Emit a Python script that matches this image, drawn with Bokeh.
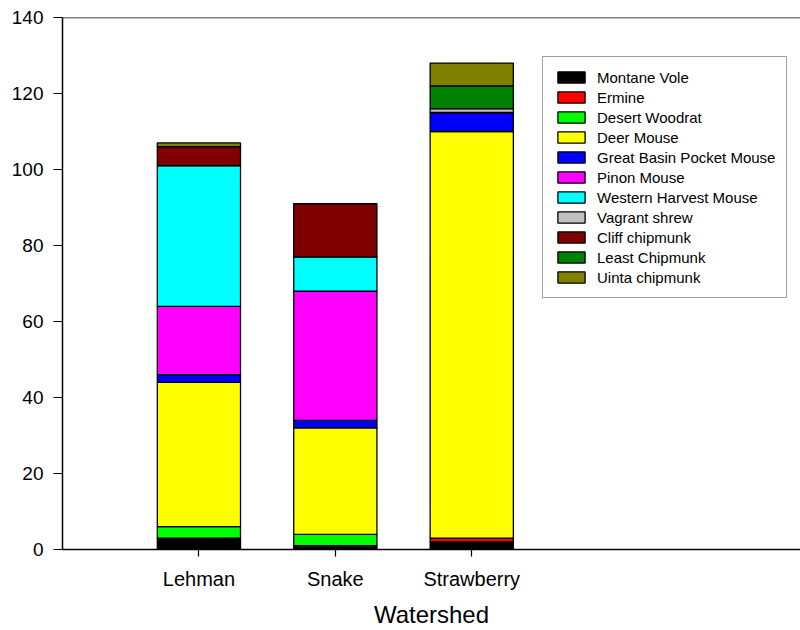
from bokeh.plotting import figure
from bokeh.models import ColumnDataSource, Range1d, FixedTicker, Span, Legend
from bokeh.embed import file_html
from bokeh.resources import INLINE

watersheds = ["Lehman", "Snake", "Strawberry"]
species = ["Montane Vole", "Ermine", "Desert Woodrat", "Deer Mouse",
           "Great Basin Pocket Mouse", "Pinon Mouse", "Western Harvest Mouse",
           "Vagrant shrew", "Cliff chipmunk", "Least Chipmunk", "Uinta chipmunk"]
colors = ["#000000", "#FF0000", "#00FF00", "#FFFF00", "#0000FF", "#FF00FF",
          "#00FFFF", "#C0C0C0", "#800000", "#008000", "#808000"]

montane_vole = [3, 1, 2]
ermine = [0, 0, 1]
desert_woodrat = [3, 3, 0]
deer_mouse = [38, 28, 107]
great_basin_pocket_mouse = [2, 2, 5]
pinon_mouse = [18, 34, 0]
western_harvest_mouse = [37, 9, 0]
vagrant_shrew = [0, 0, 1]
cliff_chipmunk = [5, 14, 0]
least_chipmunk = [0, 0, 6]
uinta_chipmunk = [1, 0, 6]

y_ticks = [0, 20, 40, 60, 80, 100, 120, 140]

values = [montane_vole, ermine, desert_woodrat, deer_mouse, great_basin_pocket_mouse,
          pinon_mouse, western_harvest_mouse, vagrant_shrew, cliff_chipmunk,
          least_chipmunk, uinta_chipmunk]

xs = [i + 1 for i in range(len(watersheds))]
data = {"x": xs}
for name, v in zip(species, values):
    data[name] = v
source = ColumnDataSource(data)

FONT = "Liberation Sans"

p = figure(width=800, height=630, output_backend="svg", toolbar_location=None,
           x_range=Range1d(0, 5.41), y_range=Range1d(0, 140),
           min_border_left=62, min_border_top=17, min_border_right=0,
           min_border_bottom=81)
p.outline_line_color = None
p.xgrid.visible = False
p.ygrid.visible = False

renderers = p.vbar_stack(species, x="x", width=0.61, source=source,
                         fill_color=colors, line_color="black", line_width=1.3)

# axes
p.yaxis.ticker = FixedTicker(ticks=y_ticks)
p.xaxis.ticker = FixedTicker(ticks=xs)
p.xaxis.major_label_overrides = {x: w for x, w in zip(xs, watersheds)}
p.xaxis.minor_tick_line_color = None
p.yaxis.minor_tick_line_color = None
for ax in (p.xaxis, p.yaxis):
    ax.axis_line_width = 1.5
    ax.axis_line_color = "black"
    ax.major_tick_line_color = "black"
    ax.major_tick_line_width = 1.2
    ax.major_tick_in = 0
    ax.major_label_text_font = FONT
    ax.major_label_text_color = "black"
p.yaxis.major_label_text_font_size = "19px"
p.xaxis.major_label_text_font_size = "20px"
p.yaxis.major_tick_out = 9
p.xaxis.major_tick_out = 7
p.yaxis.major_label_standoff = 10
p.xaxis.major_label_standoff = 11
p.xaxis.axis_label = "Watershed"
p.xaxis.axis_label_text_font = FONT
p.xaxis.axis_label_text_font_style = "normal"
p.xaxis.axis_label_text_font_size = "24px"
p.xaxis.axis_label_text_color = "black"
p.xaxis.axis_label_standoff = 8

# top frame line
p.add_layout(Span(location=140, dimension="width", line_color="black", line_width=1.5))

legend = Legend(items=[(name, [r]) for name, r in zip(species, renderers)],
                location=(480, 251))
legend.glyph_width = 34
legend.glyph_height = 14
legend.label_height = 18
legend.spacing = 2
legend.label_standoff = 9
legend.padding = 11
legend.margin = 0
legend.border_line_color = "#444444"
legend.border_line_width = 1
legend.label_text_font = FONT
legend.label_text_font_size = "15px"
legend.label_text_color = "black"
legend.background_fill_alpha = 1
p.add_layout(legend)

open("out.html", "w").write(file_html(p, INLINE))
